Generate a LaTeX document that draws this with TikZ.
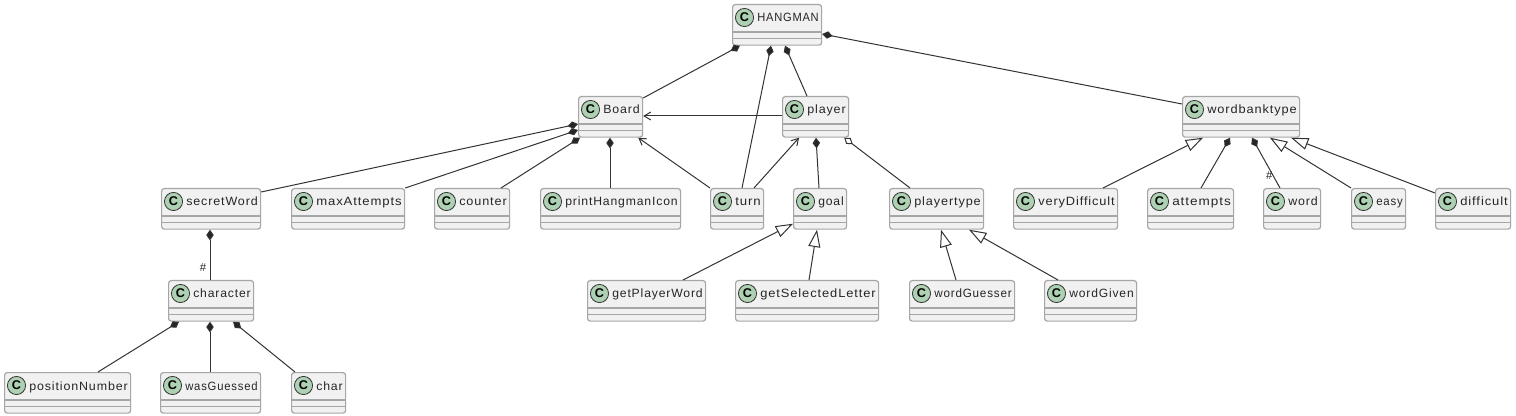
\documentclass[tikz,border=0pt]{standalone}
\usepackage{xcolor}
\usepackage{graphicx}
\usepackage{fontspec}
\setmainfont[LetterSpace=7]{Liberation Sans}
\newfontfamily\iconfont{Liberation Sans}
\usepackage{tikz}
\usetikzlibrary{positioning}
\usetikzlibrary{calc}
\usetikzlibrary{arrows, arrows.meta}

\definecolor{boxfill}{HTML}{F1F1F1}
\definecolor{boxline}{HTML}{A6A6A6}
\definecolor{iconfill}{HTML}{ADD1B2}
\definecolor{linkcol}{HTML}{333333}

\tikzset{
  classbox/.style={draw=boxline, fill=boxfill, line width=0.9pt, rounded corners=2pt, minimum height=30.4pt, inner sep=0pt},
  classrule/.style={draw=boxline, line width=0.8pt},
  classicon/.style={circle, draw=linkcol, fill=iconfill, line width=0.6pt, minimum size=13.6pt, inner sep=0pt, font=\iconfont\bfseries\fontsize{9.5pt}{9.5pt}\selectfont},
  classname/.style={anchor=base west, inner sep=0pt, text=black!85, font=\fontsize{9pt}{11pt}\selectfont},
  link/.style={draw=linkcol, line width=0.75pt},
  comp/.style={link, {Diamond[length=8pt,width=5.6pt,fill=black!85]}-},
  aggr/.style={link, {Diamond[open,length=8pt,width=5.6pt,fill=white]}-},
  inherit/.style={link, {Triangle[open,length=13pt,width=9pt,fill=white]}-},
  uses/.style={link, ->, >={Straight Barb[length=5pt,width=6pt]}},
  mult/.style={inner sep=0pt, text=black!85, font=\fontsize{8.5pt}{10pt}\selectfont}
}

% name, left, width, top, label
\newcommand{\umlclass}[5]{%
  \node[classbox, anchor=north west, minimum width=#3*0.75pt] (#1) at (#2,#4) {};
  \draw[classrule] ($(#1.north west)+(0,28)$) -- ($(#1.north east)+(0,28)$);
  \draw[classrule] ($(#1.north west)+(0,34.5)$) -- ($(#1.north east)+(0,34.5)$);
  \node[classicon] (#1icon) at ($(#1.north west)+(12.5,13.5)$) {C};
  \pgfmathsetlengthmacro{\namewidth}{(#3-27.5)*0.75pt}
  \node[classname] (#1name) at ($(#1.north west)+(25,18)$) {\resizebox{\namewidth}{\height}{#5}};
}

\begin{document}
\begin{tikzpicture}[x=0.75pt, y=-0.75pt]
  \useasboundingbox[fill=white] (0,0) rectangle (1516,416);

  % first row
  \umlclass{hangman}{732}{89}{4}{HANGMAN}
  \umlclass{board}{578}{64}{96}{Board}
  \umlclass{player}{782}{66}{96}{player}
  \umlclass{wordbanktype}{1182}{117}{96}{wordbanktype}

  % second row
  \umlclass{secretword}{161}{99}{188}{secretWord}
  \umlclass{maxattempts}{291}{113}{188}{maxAttempts}
  \umlclass{counter}{434}{75}{188}{counter}
  \umlclass{printicon}{540}{140}{188}{printHangmanIcon}
  \umlclass{turn}{710}{53}{188}{turn}
  \umlclass{goal}{793}{53}{188}{goal}
  \umlclass{playertype}{889}{94}{188}{playertype}
  \umlclass{verydifficult}{1013}{104}{188}{veryDifficult}
  \umlclass{attempts}{1147}{86}{188}{attempts}
  \umlclass{word}{1263}{57}{188}{word}
  \umlclass{easy}{1351}{54}{188}{easy}
  \umlclass{difficult}{1435}{75}{188}{difficult}

  % third row
  \umlclass{character}{168}{85}{280}{character}
  \umlclass{getplayerword}{587}{118}{280}{getPlayerWord}
  \umlclass{getselected}{735}{143}{280}{getSelectedLetter}
  \umlclass{wordguesser}{909}{105}{280}{wordGuesser}
  \umlclass{wordgiven}{1044}{92}{280}{wordGiven}

  % fourth row
  \umlclass{positionnumber}{4}{126}{372}{positionNumber}
  \umlclass{wasguessed}{160}{100}{372}{wasGuessed}
  \umlclass{charname}{291}{54}{372}{char}

  % HANGMAN links
  \draw[comp] ($(hangman.south west)+(8,0)$) -- ($(board.north east)+(0,2)$);
  \draw[comp] ($(hangman.south west)+(39,0)$) -- ($(turn.north west)+(32,0)$);
  \draw[comp] ($(hangman.south west)+(53,0)$) -- ($(player.north west)+(25,0)$);
  \draw[comp] ($(hangman.north east)+(0,30)$) -- ($(wordbanktype.north west)+(0,8)$);

  % Board links
  \draw[uses] (player.west |- 0,116) -- (board.east |- 0,116);
  \draw[uses] (turn.north west) -- ($(board.south east)+(-5,0)$);
  \draw[comp] ($(board.north west)+(0,28)$) -- ($(secretword.north east)+(0,4)$);
  \draw[comp] ($(board.north west)+(0,34)$) -- (maxattempts.north east);
  \draw[comp] ($(board.south west)+(2,0)$) -- ($(counter.north west)+(67,0)$);
  \draw[comp] ($(board.south west)+(32,0)$) -- ($(printicon.north west)+(70,0)$);

  % player links
  \draw[uses] ($(turn.north west)+(44,0)$) -- ($(player.south west)+(17,0)$);
  \draw[comp] ($(player.south west)+(34,0)$) -- ($(goal.north west)+(26,0)$);
  \draw[aggr] ($(player.south east)+(-5,0)$) -- ($(playertype.north west)+(21,0)$);

  % goal and playertype links
  \draw[inherit] ($(goal.south west)+(0,-6)$) -- ($(getplayerword.north west)+(96,0)$);
  \draw[inherit] ($(goal.south west)+(24,0)$) -- ($(getselected.north west)+(74,0)$);
  \draw[inherit] ($(playertype.south west)+(52,0)$) -- ($(wordguesser.north west)+(47,0)$);
  \draw[inherit] ($(playertype.south west)+(80,0)$) -- ($(wordgiven.north west)+(14,0)$);

  % wordbanktype links
  \draw[inherit] ($(wordbanktype.south west)+(21,0)$) -- ($(verydifficult.north west)+(90,0)$);
  \draw[comp] ($(wordbanktype.south west)+(48,0)$) -- ($(attempts.north west)+(54,0)$);
  \draw[comp] ($(wordbanktype.south west)+(70,0)$) -- ($(word.north west)+(17,0)$) node[mult, pos=0.75, left=0pt] (wordmult) {\#};
  \draw[inherit] ($(wordbanktype.south west)+(88,0)$) -- (easy.north west);
  \draw[inherit] ($(wordbanktype.south west)+(109,0)$) -- ($(difficult.north west)+(0,5)$);

  % secretWord and character links
  \draw[comp] ($(secretword.south west)+(49,0)$) -- ($(character.north west)+(42,0)$) node[mult, pos=0.75, left=2.5pt] (charactermult) {\#};
  \draw[comp] ($(character.south west)+(11,0)$) -- ($(positionnumber.north west)+(94,0)$);
  \draw[comp] ($(character.south west)+(42,0)$) -- ($(wasguessed.north west)+(50,0)$);
  \draw[comp] ($(character.south west)+(65,0)$) -- ($(charname.north west)+(4,0)$);
\end{tikzpicture}
\end{document}
